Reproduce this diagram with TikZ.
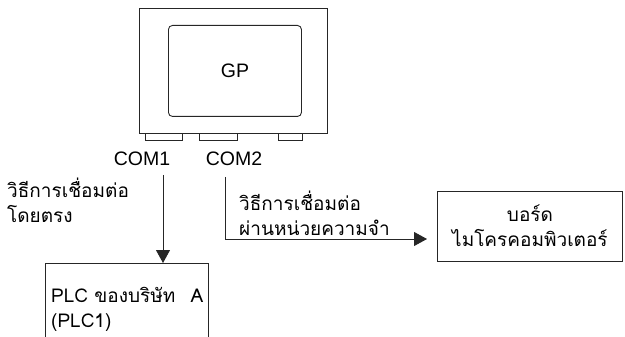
\documentclass[tikz,border=0pt]{standalone}
\usepackage{fontspec}
\setmainfont{Liberation Sans}
\newfontfamily\thaifont[Script=Thai]{Loma}
\usetikzlibrary{arrows.meta}
\begin{document}
\begin{tikzpicture}[x=1pt,y=-1pt,
  ln/.style={draw=black!85,line width=0.9pt},
  arr/.style={ln,-{Triangle[width=14pt,length=13pt]}},
  lbl/.style={font=\fontsize{19.5}{22}\selectfont,inner sep=0pt},
  thai/.style={font=\thaifont\fontsize{19}{25}\selectfont,inner sep=0pt,align=left},
  port/.style={ln,line width=0.8pt,minimum height=7pt,inner sep=0pt,anchor=north west}]
\useasboundingbox (0,0) rectangle (625,337);
% GP unit
\node[ln,minimum width=188pt,minimum height=125pt,inner sep=0pt,anchor=north west] (gp) at (139,8) {};
\node[ln,rounded corners=4pt,minimum width=133pt,minimum height=91pt,inner sep=0pt,anchor=north west] (screen) at (168,25) {};
\node[lbl] (gplbl) at (screen.center) {GP};
\node[port,minimum width=37pt] (p1) at (145,133) {};
\node[port,minimum width=38pt] (p2) at (199,133) {};
\node[port,minimum width=24pt] (p3) at (278,133) {};
\node[lbl] (com1) at (142,159) {COM1};
\node[lbl] (com2) at (234,159) {COM2};
% left branch
\coordinate (a1) at (163,175);
\node[thai,anchor=north west] (t1) at (7,178) {วิธีการเชื่อมต่อ\\โดยตรง};
\node[thai,anchor=north west,text width=152pt] (plc) at (51,287) {PLC ของบริษัท\hfill A\\(PLC1)};
\coordinate (plctl) at (45,263);
\coordinate (plctr) at (208,263);
\coordinate (plcbl) at (45,337);
\coordinate (plcbr) at (208,337);
\draw[ln] (plcbl) -- (plctl) -- (plctr) -- (plcbr);
\draw[arr] (a1) -- (a1 |- plctl);
% right branch
\coordinate (a2) at (225,177);
\coordinate (a2c) at (225,239);
\node[ln,minimum width=185pt,minimum height=70pt,inner sep=0pt,anchor=north west] (board) at (437,191) {};
\node[thai,align=center] (boardlbl) at ([yshift=1pt]board.center) {บอร์ด\\ไมโครคอมพิวเตอร์};
\node[thai,anchor=north west] (t2) at (239,191) {วิธีการเชื่อมต่อ\\ผ่านหน่วยความจำ};
\draw[arr,shorten >=10pt] (a2) -- (a2c) -- (a2c -| board.west);
\end{tikzpicture}
\end{document}
